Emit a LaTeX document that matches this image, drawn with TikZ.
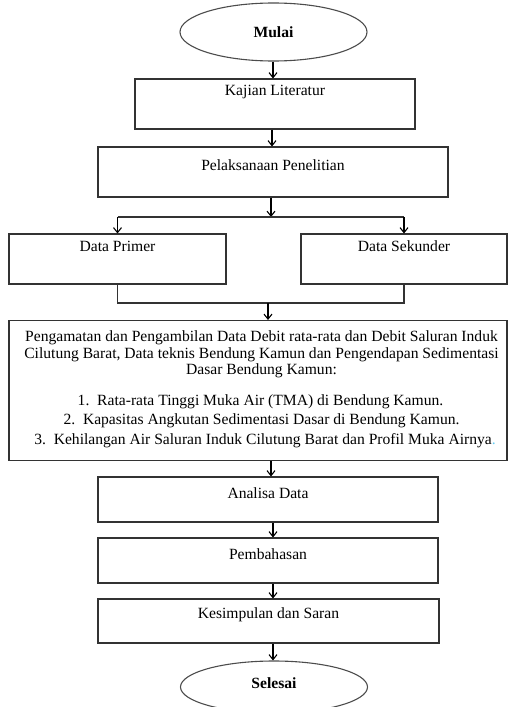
\documentclass[tikz,border=0pt]{standalone}
\usepackage{fontspec}
\setmainfont{Liberation Serif}
\usetikzlibrary{arrows.meta,shapes.geometric}
\begin{document}
\begin{tikzpicture}[x=1pt,y=-1pt,
  box/.style={draw=black!80, line width=1.1pt, inner sep=0pt},
  oval/.style={ellipse, draw=black!70, line width=1.1pt, inner sep=0pt, minimum width=187pt},
  txt/.style={inner sep=0pt, font=\fontsize{15.6}{18}\selectfont},
  btxt/.style={inner sep=0pt, font=\fontsize{15.6}{18}\selectfont\bfseries},
  arr/.style={draw=black, line width=1.1pt, -{Straight Barb[length=5pt,width=8pt,line width=1.1pt]}},
  ln/.style={draw=black!80, line width=1.1pt}]
\useasboundingbox (0,0) rectangle (508,707);
\begin{scope}
\clip (0,0) rectangle (508,707);
% start / end
\node[oval, minimum height=58pt] (mulai) at (273.5,32) {};
\node[btxt] (mulaiT) at (273.5,32) {Mulai};
\node[oval, minimum height=52pt] (selesai) at (274,687) {};
\node[btxt] (selesaiT) at (274,683) {Selesai};
\end{scope}
% boxes
\node[box, minimum width=280pt, minimum height=50pt] (kajian) at (275,104) {};
\node[txt] (kajianT) at (275,92) {Kajian Literatur};
\node[box, minimum width=350pt, minimum height=50pt] (pelak) at (273,172) {};
\node[txt] (pelakT) at (273,165) {Pelaksanaan Penelitian};
\node[box, minimum width=217pt, minimum height=50pt] (primer) at (117.5,259) {};
\node[txt] (primerT) at (117.5,246) {Data Primer};
\node[box, minimum width=206pt, minimum height=50pt] (sekunder) at (404,259) {};
\node[txt] (sekunderT) at (404,246) {Data Sekunder};
\node[box, minimum width=498pt, minimum height=140pt] (big) at (258,390.5) {};
\node[txt] (b1) at (261.5,338) {Pengamatan dan Pengambilan Data Debit rata-rata dan Debit Saluran Induk};
\node[txt] (b2) at (261.5,354.5) {Cilutung Barat, Data teknis Bendung Kamun dan Pengendapan Sedimentasi};
\node[txt] (b3) at (261.5,371) {Dasar Bendung Kamun:};
\node[txt] (b4) at (260.5,402) {1.\enspace Rata-rata Tinggi Muka Air (TMA) di Bendung Kamun.};
\node[txt] (b5) at (261.5,421) {2.\enspace Kapasitas Angkutan Sedimentasi Dasar di Bendung Kamun.};
\node[txt] (b6) at (265,441) {3.\enspace Kehilangan Air Saluran Induk Cilutung Barat dan Profil Muka Airnya\textcolor{cyan!60}{.}};
\node[box, minimum width=340pt, minimum height=45pt] (analisa) at (268,499.5) {};
\node[txt] (analisaT) at (268,493) {Analisa Data};
\node[box, minimum width=340pt, minimum height=45pt] (bahas) at (268,560.5) {};
\node[txt] (bahasT) at (268,554) {Pembahasan};
\node[box, minimum width=341pt, minimum height=44pt] (simpul) at (268.5,621) {};
\node[txt] (simpulT) at (268.5,615) {Kesimpulan dan Saran};
% helper coordinates
\coordinate (c1) at (273,0);
\coordinate (c2) at (272,0);
\coordinate (split) at (271,217);
\coordinate (merge) at (268,303);
\coordinate (c3) at (271,0);
% connectors
\draw[arr] (mulai.south -| c1) -- (kajian.north -| c1);
\draw[arr] (kajian.south -| c2) -- (pelak.north -| c2);
\draw[arr] (pelak.south -| split) -- (split);
\draw[ln] (primer.north |- split) -- (sekunder.north |- split);
\draw[arr] (primer.north |- split) -- (primer.north);
\draw[arr] (sekunder.north |- split) -- (sekunder.north);
\draw[ln] (primer.south) |- (merge) -| (sekunder.south);
\draw[arr] (merge) -- (big.north -| merge);
\draw[arr] (big.south -| c3) -- (analisa.north -| c3);
\draw[arr] (analisa.south -| c1) -- (bahas.north -| c1);
\draw[arr] (bahas.south -| c1) -- (simpul.north -| c1);
\draw[arr] (simpul.south -| c1) -- (selesai.north -| c1);
\end{tikzpicture}
\end{document}
